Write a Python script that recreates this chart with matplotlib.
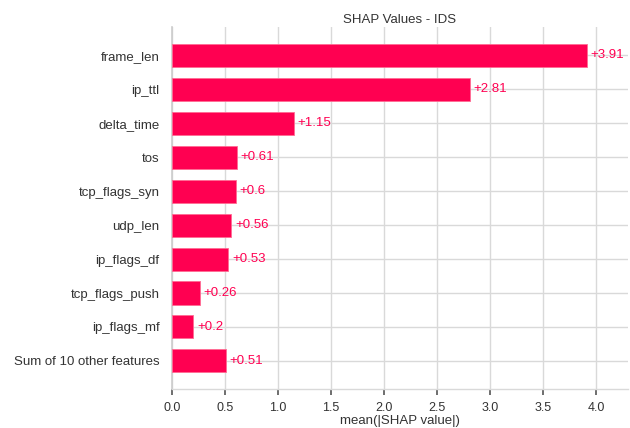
import matplotlib
matplotlib.use("Agg")
import matplotlib.pyplot as plt
import numpy as np

features = ["frame_len", "ip_ttl", "delta_time", "tos", "tcp_flags_syn",
            "udp_len", "ip_flags_df", "tcp_flags_push", "ip_flags_mf",
            "Sum of 10 other features"]
mean_abs_shap = [3.91, 2.81, 1.15, 0.61, 0.60, 0.56, 0.53, 0.26, 0.20, 0.51]
value_labels = ["+3.91", "+2.81", "+1.15", "+0.61", "+0.6", "+0.56",
                "+0.53", "+0.26", "+0.2", "+0.51"]
xticks = [0.0, 0.5, 1.0, 1.5, 2.0, 2.5, 3.0, 3.5, 4.0]

plt.rcParams["font.family"] = ["Liberation Sans", "DejaVu Sans"]

RED = "#ff0051"
GRID = "#d9d9d9"
TEXT = "#333333"

fig = plt.figure(figsize=(6.3, 4.28), dpi=100)
ax = fig.add_axes([0.273, 0.091, 0.724, 0.846])

y = np.arange(len(features))
ax.barh(y, mean_abs_shap, height=0.68, color=RED, edgecolor="#ff6b93",
        linewidth=0.6, zorder=3)

for yi in y:
    ax.axhline(yi, color=GRID, lw=1.0, zorder=1)

for yi, v, lab in zip(y, mean_abs_shap, value_labels):
    ax.text(v + 0.035, yi, lab, color=RED, fontsize=9.5, va="center",
            ha="left", zorder=4)

ax.set_xlim(0, 4.3)
ax.set_ylim(len(features) - 1 + 0.83, -0.84)
ax.set_xticks(xticks)
ax.set_xticklabels([f"{t:.1f}" for t in xticks])
ax.set_yticks(y)
ax.set_yticklabels(features)

ax.grid(axis="x", color=GRID, lw=1.0, zorder=0)
ax.set_axisbelow(True)

for side in ["top", "right"]:
    ax.spines[side].set_visible(False)
ax.spines["left"].set_color("#cccccc")
ax.spines["left"].set_linewidth(1.2)
ax.spines["bottom"].set_color(GRID)
ax.spines["bottom"].set_linewidth(1.0)

ax.tick_params(axis="y", length=0, pad=9, labelsize=9.5, labelcolor=TEXT)
ax.tick_params(axis="x", length=4, width=1.2, color="#555555",
               labelsize=9, labelcolor=TEXT, pad=5)

ax.set_xlabel("mean(|SHAP value|)", fontsize=9.5, color=TEXT, labelpad=1)
ax.set_title("SHAP Values - IDS", fontsize=9.5, color=TEXT, pad=3)

fig.savefig("out.png", dpi=100)
